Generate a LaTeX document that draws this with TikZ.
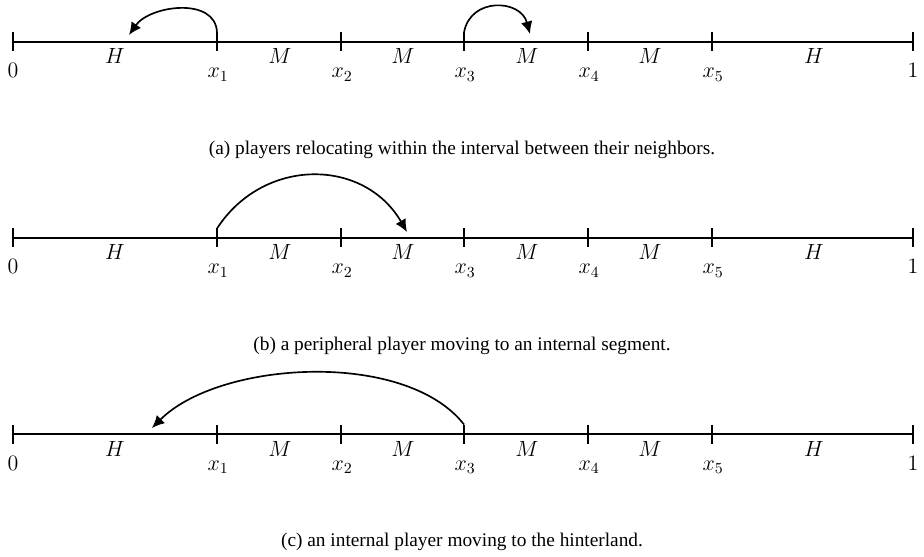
\RequirePackage{fix-cm}
\documentclass[tikz,border=0pt]{standalone}
\usepackage{fontspec}
\newfontfamily\capfont{Liberation Serif}
\usetikzlibrary{arrows.meta}
\begin{document}
\begin{tikzpicture}[x=0.6pt,y=-0.6pt,
  axis/.style={line width=1.15pt},
  tickmark/.style={line width=1.15pt},
  mover/.style={line width=1pt,-{Latex[length=7.5pt,width=7pt]}},
  seglabel/.style={anchor=base,inner sep=0pt,font=\fontsize{13.2}{15}\selectfont},
  ptlabel/.style={anchor=base,inner sep=0pt,font=\fontsize{13.2}{15}\selectfont},
  caption/.style={inner sep=0pt,font=\capfont\fontsize{11.6}{13}\selectfont}]
\useasboundingbox (0,0) rectangle (924,557);
% ---------- helper macro for one number line ----------
\newcommand{\numline}[2]{%
  % #1 = prefix, #2 = y of line
  \foreach \xx/\nm in {13/0,217/1,341/2,464/3,588/4,712/5,913/6}{
    \coordinate (#1t\nm) at (\xx,#2);
    \coordinate (#1u\nm) at (\xx,#2-9.5);
    \coordinate (#1d\nm) at (\xx,#2+9.5);
    \draw[tickmark] (#1u\nm) -- (#1d\nm);
  }
  \draw[axis] (#1t0) -- (#1t6);
  \node[ptlabel] (#1l0) at (13,#2+36) {$0$};
  \node[ptlabel] (#1l1) at (218,#2+36) {$x_1$};
  \node[ptlabel] (#1l2) at (342,#2+36) {$x_2$};
  \node[ptlabel] (#1l3) at (465,#2+36) {$x_3$};
  \node[ptlabel] (#1l4) at (589,#2+36) {$x_4$};
  \node[ptlabel] (#1l5) at (713,#2+36) {$x_5$};
  \node[ptlabel] (#1l6) at (913,#2+36) {$1$};
  \node[seglabel] (#1s1) at (115,#2+22) {$H$};
  \node[seglabel] (#1s2) at (280,#2+22) {$M$};
  \node[seglabel] (#1s3) at (403,#2+22) {$M$};
  \node[seglabel] (#1s4) at (527,#2+22) {$M$};
  \node[seglabel] (#1s5) at (650,#2+22) {$M$};
  \node[seglabel] (#1s6) at (814,#2+22) {$H$};
}
% ---------- (a) ----------
\numline{a}{42}
\coordinate (aend1) at (129,35);
\coordinate (aend2) at (530,34);
\draw[mover] (au1) to[out=92,in=55,looseness=1.05] (aend1);
\draw[mover] (au3) to[out=80,in=105,looseness=1.4] (aend2);
\node[caption] (capa) at (462,150) {(a) players relocating within the interval between their neighbors.};
% ---------- (b) ----------
\numline{b}{238}
\coordinate (bend) at (407,232);
\draw[mover] (bu1) to[out=57,in=120,looseness=1.15] (bend);
\node[caption] (capb) at (462,346) {(b) a peripheral player moving to an internal segment.};
% ---------- (c) ----------
\numline{c}{434}
\coordinate (cend) at (152,428);
\draw[mover] (cu3) to[out=128,in=45,looseness=0.78] (cend);
\node[caption] (capc) at (462,542) {(c) an internal player moving to the hinterland.};
\end{tikzpicture}
\end{document}
